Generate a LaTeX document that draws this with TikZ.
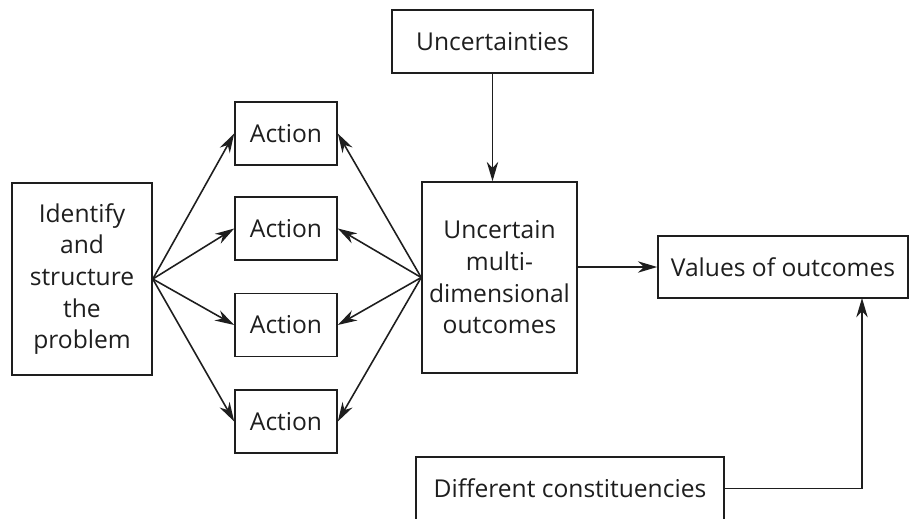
\documentclass[tikz,border=0pt]{standalone}
\usepackage{fontspec}
\setmainfont{Open Sans}
\usepackage{xcolor}
\definecolor{inkblack}{RGB}{30,30,30}
\usepackage{tikz}
\usetikzlibrary{arrows.meta, positioning, calc}

\begin{document}
\begin{tikzpicture}[x=0.02cm, y=-0.02cm,
    box/.style={draw=inkblack, line width=0.9pt, inner sep=0pt, align=center,
                font=\fontsize{14}{18}\selectfont, text=inkblack},
    arr/.style={-{Stealth[length=11pt, width=6.5pt, inset=3.5pt]}, inkblack, line width=0.9pt}]

\useasboundingbox (0,0) rectangle (910,518);

% Left: problem structuring
\node[box, minimum width=140*0.02cm, minimum height=192*0.02cm] (ident) at (82,279)
  {Identify\\and\\structure\\the\\problem};

% Column of actions
\foreach \i/\y in {1/133.5, 2/228.5, 3/325, 4/421.5} {
  \node[box, minimum width=102*0.02cm, minimum height=63*0.02cm] (act\i) at (286,\y) {Action};
}

% Outcomes and uncertainties
\node[box, minimum width=155*0.02cm, minimum height=191*0.02cm] (unc) at (499.5,277.5)
  {Uncertain\\multi-\\dimensional\\outcomes};
\node[box, minimum width=201*0.02cm, minimum height=63*0.02cm] (uts) at (492.5,41.5)
  {Uncertainties};

% Values and constituencies
\node[box, minimum width=250*0.02cm, minimum height=62*0.02cm] (vals) at (783,267)
  {Values of outcomes};
\node[box, minimum width=308*0.02cm, minimum height=63*0.02cm] (diff) at (570,488.5)
  {Different constituencies};
\coordinate (vin) at (862,298);

% Connectors
\foreach \i in {1,...,4} {
  \draw[arr] (ident.east) -- (act\i.west);
  \draw[arr] (unc.west) -- (act\i.east);
}
\draw[arr] (uts.south) -- (uts.south |- unc.north);
\draw[arr] (unc.east |- vals.west) -- (vals.west);
\draw[arr] (diff.east) -| (vin);

\end{tikzpicture}
\end{document}
